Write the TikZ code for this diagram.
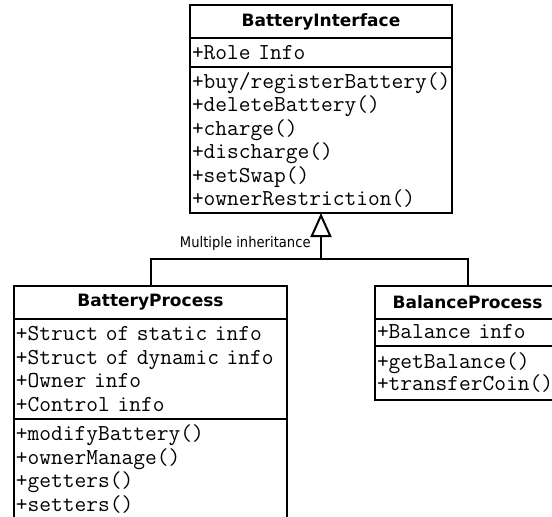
\documentclass[tikz,border=0pt]{standalone}
\usepackage{fontspec}
\newfontfamily\headfont{DejaVu Sans}
\newfontfamily\lblfont{DejaVu Sans Condensed}
\usepackage{tikz}
\usetikzlibrary{positioning}
\usetikzlibrary{arrows.meta}
\hyphenpenalty=10000

\begin{document}
\begin{tikzpicture}[x=1pt, y=-1pt, node distance=0pt, >={Triangle[open, length=12pt, width=10.5pt]},
box/.style={draw, line width=1pt, outer sep=0pt, inner xsep=1pt, inner ysep=0pt, text width=#1, minimum width=#1+2pt},
head/.style={box=#1, minimum height=16.5pt, align=center, font=\headfont\bfseries\fontsize{8.5}{10}\selectfont},
part/.style={box=#1, align=left, font=\ttfamily\fontsize{11.4}{11.7}\selectfont},
conn/.style={line width=1pt},
lbl/.style={inner sep=0pt, font=\lblfont\fontsize{7.3}{8.5}\selectfont}]

\useasboundingbox (0,0) rectangle (276,258);

% interface class
\node [head=129pt] (iface) at (160.5,10.75) {BatteryInterface};
\node [part=129pt, minimum height=14.5pt, below = of iface] (ifaceAttr) {+Role~Info};
\node [part=129pt, minimum height=73pt, below = of ifaceAttr] (ifaceOps) {+buy/registerBattery()\\+deleteBattery()\\+charge()\\+discharge()\\+setSwap()\\+ownerRestriction()};

% process class
\node [head=134.5pt] (proc) at (75.25,151.25) {BatteryProcess};
\node [part=134.5pt, minimum height=50pt, below = of proc] (procAttr) {+Struct~of~static~info\\+Struct~of~dynamic~info\\+Owner~info\\+Control~info};
\node [part=134.5pt, minimum height=50pt, below = of procAttr] (procOps) {+modifyBattery()\\+ownerManage()\\+getters()\\+setters()};

% balance class
\node [head=90.5pt] (bal) at (233.75,151) {BalanceProcess};
\node [part=90.5pt, minimum height=13.5pt, below = of bal] (balAttr) {+Balance~info};
\node [part=90.5pt, minimum height=27pt, below = of balAttr, font=\ttfamily\fontsize{11.4}{11}\selectfont] (balOps) {+getBalance()\\+transferCoin()};

% inheritance
\coordinate (fork) at (160.5,129.5);
\draw [conn] (proc.north) |- (fork) -| (bal.north);
\draw [conn, ->] (fork) -- (ifaceOps.south);
\node [lbl, anchor=east] (inh) at (155.5,121.5) {Multiple inheritance};

\end{tikzpicture}
\end{document}
